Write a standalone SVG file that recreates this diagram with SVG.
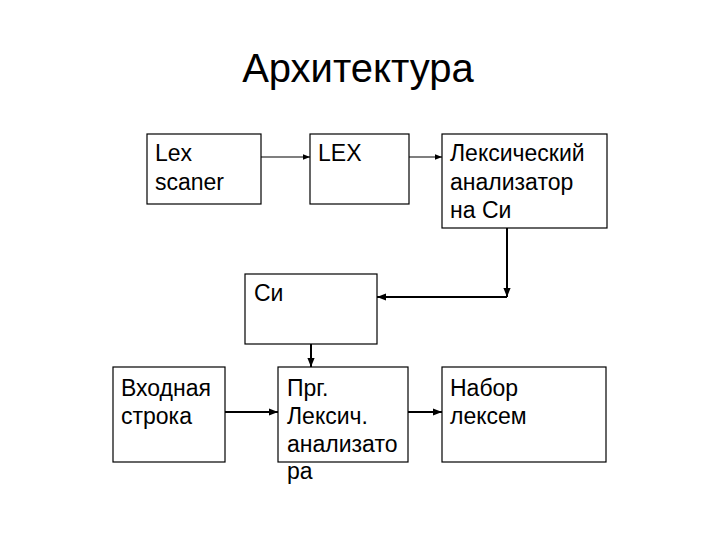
<svg xmlns="http://www.w3.org/2000/svg" width="720" height="540" viewBox="0 0 720 540">
<defs>
<marker id="ah" viewBox="0 0 10 10" refX="10" refY="5" markerWidth="7" markerHeight="7" markerUnits="userSpaceOnUse" orient="auto">
<path d="M0,1 L10,5 L0,9 z" fill="#000"/>
</marker>
<marker id="ah2" viewBox="0 0 10 10" refX="10" refY="5" markerWidth="9" markerHeight="9" markerUnits="userSpaceOnUse" orient="auto">
<path d="M0,1 L10,5 L0,9 z" fill="#000"/>
</marker>
<style>
.box{fill:#fff;stroke:#000;stroke-width:1.2}
.t{font-family:"Liberation Sans",Arial,sans-serif;font-size:23px;fill:#000}
.c1{stroke:#000;stroke-width:1.2;fill:none;marker-end:url(#ah)}
.c2{stroke:#000;stroke-width:2;fill:none;marker-end:url(#ah2)}
</style>
</defs>
<rect width="720" height="540" fill="#fff"/>
<text x="358" y="82" text-anchor="middle" style="font-family:'Liberation Sans',Arial,sans-serif;font-size:40px">Архитектура</text>
<g id="lexscaner"><rect class="box" x="147" y="134" width="114" height="70"/><text class="t" x="155" y="161">Lex</text><text class="t" x="155" y="190">scaner</text></g>
<g id="lex"><rect class="box" x="310" y="134" width="99" height="70"/><text class="t" x="318" y="161">LEX</text></g>
<g id="lexan"><rect class="box" x="442" y="134" width="165" height="94"/><text class="t" x="450" y="161">Лексический</text><text class="t" x="450" y="190">анализатор</text><text class="t" x="450" y="218">на Си</text></g>
<g id="si"><rect class="box" x="245" y="274" width="132" height="70"/><text class="t" x="254" y="301">Си</text></g>
<g id="input"><rect class="box" x="113" y="367" width="112" height="95"/><text class="t" x="121" y="396">Входная</text><text class="t" x="121" y="424">строка</text></g>
<g id="prg"><rect class="box" x="278" y="367" width="130" height="95"/><text class="t" x="287" y="396">Прг.</text><text class="t" x="287" y="424">Лексич.</text><text class="t" x="287" y="452">анализато</text><text class="t" x="287" y="479">ра</text></g>
<g id="nabor"><rect class="box" x="442" y="367" width="164" height="95"/><text class="t" x="450" y="396">Набор</text><text class="t" x="450" y="424">лексем</text></g>
<g id="connectors">
<line class="c1" x1="261" y1="157" x2="310" y2="157"/>
<line class="c1" x1="409" y1="157" x2="442" y2="157"/>
<line class="c2" x1="507" y1="228" x2="507" y2="297"/>
<line class="c2" x1="507" y1="297" x2="377" y2="297"/>
<line class="c2" x1="311" y1="344" x2="311" y2="367"/>
<line class="c2" x1="225" y1="412" x2="278" y2="412"/>
<line class="c2" x1="408" y1="412" x2="442" y2="412"/>
</g>
</svg>
